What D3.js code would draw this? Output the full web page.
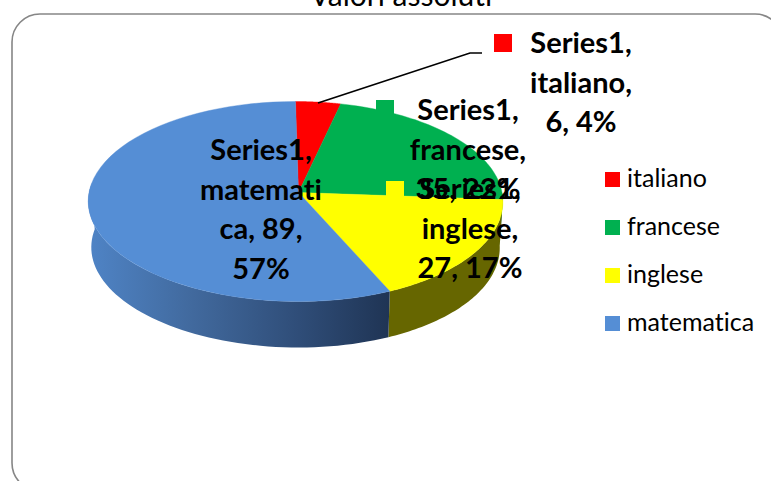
<!DOCTYPE html>
<html><head><meta charset="utf-8">
<script src="https://cdn.jsdelivr.net/npm/d3@7/dist/d3.min.js"></script>
<style>html,body{margin:0;padding:0;background:#fff;overflow:hidden}svg{display:block}text{font-family:Lato,Carlito,sans-serif;fill:#000;font-variant-ligatures:none}</style>
</head><body><svg id="c" width="771" height="481"></svg>
<script>
const categories = ["italiano","francese","inglese","matematica"];
const values = [6,35,27,89];
const percents = [4,22,17,57];
const seriesName = "Series1";
const colors = ["#FF0000","#00B050","#FFFF00","#558ED5"];
const titleText = "Valori assoluti";
const labelLines = [
  ["Series1,","italiano,","6, 4%"],
  ["Series1,","francese,","35, 22%"],
  ["Series1,","inglese,","27, 17%"],
  ["Series1,","matemati","ca, 89,","57%"]
];

const svg = d3.select("#c");
const cx=295.5, cy=192.5, rx=206.5, a=99.2, k=0.09, depth=46, shrink=0.985;

const defs = svg.append("defs");
const grad = defs.append("linearGradient").attr("id","blueSide")
  .attr("gradientUnits","userSpaceOnUse").attr("x1",88).attr("x2",390).attr("y1",0).attr("y2",0);
[[0,"#4F84C6"],[0.35,"#41699D"],[0.7,"#2F4D78"],[1,"#1F3454"]].forEach(s=>grad.append("stop").attr("offset",s[0]).attr("stop-color",s[1]));

// frame and title
svg.append("rect").attr("x",12).attr("y",14).attr("width",771).attr("height",477)
  .attr("rx",28).attr("ry",28).attr("fill","#fff").attr("stroke","#868686").attr("stroke-width",1.6);
svg.append("text").attr("x",401).attr("y",6).attr("text-anchor","middle").attr("font-size",30).text(titleText);

// pie with perspective projection
const pie = d3.pie().sort(null).startAngle(0).endAngle(2*Math.PI)(values);
function topPt(t){
  const u=Math.sin(t),v=-Math.cos(t),w=1/(1-k*v),f=Math.max(v,0);
  return [cx+rx*u*w+3*f*f,cy+a*v*w];
}
function botPt(t){const p=topPt(t);return [cx+(p[0]-cx)*shrink,p[1]+depth];}
const line=d3.line();
const samples=(s,e)=>d3.range(0,61).map(i=>s+(e-s)*i/60);

// sides: front half only
const sideStart=Math.PI/2, sideEnd=Math.PI*1.53;
pie.forEach((d,i)=>{
  const s=Math.max(d.startAngle,sideStart), e=Math.min(d.endAngle,sideEnd);
  if(e<=s) return;
  const ts=samples(s,e);
  const pts=ts.map(topPt).concat(ts.slice().reverse().map(botPt));
  svg.append("path").attr("d",line(pts)+"Z")
    .attr("fill", i===3?"url(#blueSide)":i===2?"#666600":d3.color(colors[i]).darker(1.2));
});
// top faces
pie.forEach((d,i)=>{
  const pts=[[cx+3,cy]].concat(samples(d.startAngle,d.endAngle).map(topPt));
  svg.append("path").attr("d",line(pts)+"Z").attr("fill",colors[i]).attr("stroke",colors[i]).attr("stroke-width",0.4);
});

// leader line
svg.append("path").attr("d",line([[318,103],[470,53],[482,53]])).attr("fill","none").attr("stroke","#000").attr("stroke-width",1.7);

// data labels: key square + bold text lines
const keyPos=[[494,34],[376,100],[386,181],[164,141]];
const labelPos=[[581,53],[468,120],[470,199],[261,160]];
labelLines.forEach((lines,i)=>{
  svg.append("rect").attr("x",keyPos[i][0]).attr("y",keyPos[i][1]).attr("width",18).attr("height",18).attr("fill",colors[i]);
});
labelLines.forEach((lines,i)=>{
  const t=svg.append("text").attr("text-anchor","middle").attr("font-size",29).attr("font-weight",700);
  lines.forEach((l,j)=>t.append("tspan").attr("x",labelPos[i][0]).attr("y",labelPos[i][1]+j*39.5).text(l));
});

// legend
const ly=d3.scalePoint().domain(categories).range([172,316]);
const leg=svg.selectAll("g.leg").data(categories).enter().append("g").attr("class","leg")
  .attr("transform",d=>`translate(605,${ly(d)})`);
leg.append("rect").attr("width",15).attr("height",15).attr("fill",(d,i)=>colors[i]);
leg.append("text").attr("x",22).attr("y",15).attr("font-size",25).text(d=>d);
</script></body></html>
